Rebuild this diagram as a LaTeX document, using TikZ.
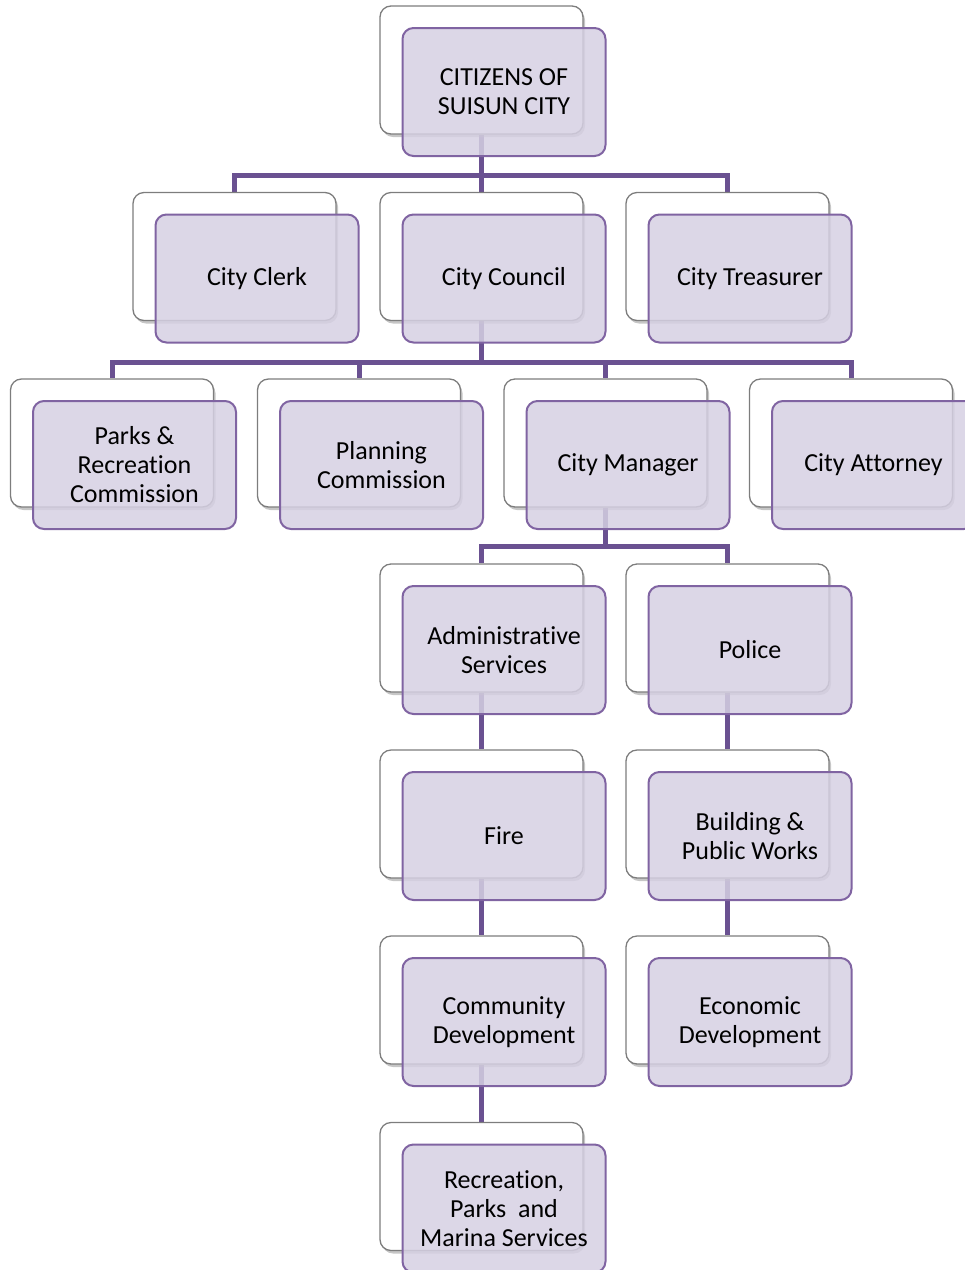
\documentclass[tikz,border=0pt]{standalone}
\usepackage{fontspec}
\setmainfont{Carlito}[Ligatures=NoCommon]
\usetikzlibrary{shadows,backgrounds}
\definecolor{boxline}{RGB}{128,100,162}
\definecolor{boxfill}{RGB}{214,208,227}
\definecolor{linkline}{RGB}{106,81,145}
\definecolor{backline}{RGB}{125,125,125}
\tikzset{
  backbox/.style={draw=backline, line width=1.3pt, fill=white, rounded corners=11pt,
    minimum width=203pt, minimum height=128pt, inner sep=0pt,
    drop shadow={shadow xshift=2pt, shadow yshift=-3pt, opacity=0.45}},
  frontbox/.style={draw=boxline, line width=2pt, fill=boxfill, fill opacity=0.85, text opacity=1,
    rounded corners=11pt, minimum width=203pt, minimum height=128pt, inner sep=0pt,
    align=center, font=\fontsize{26}{29}\selectfont},
  link/.style={draw=linkline, line width=5pt}
}
\newcommand{\orgunit}[4]{%
  \node[backbox] (#1back) at (#2,#3) {};
  \node[frontbox] (#1) at ([shift={(22.5,22)}]#1back) {#4};
}
\begin{document}
\begin{tikzpicture}[x=1pt,y=-1pt]
\useasboundingbox (0,0) rectangle (965,1270);
\clip (0,0) rectangle (965,1270);

% top
\orgunit{citizens}{481.5}{70}{CITIZENS OF\\SUISUN CITY}
% second row
\orgunit{clerk}{234.5}{256.5}{City Clerk}
\orgunit{council}{481.5}{256.5}{City Council}
\orgunit{treasurer}{727.5}{256.5}{City Treasurer}
% third row
\orgunit{parks}{112}{443}{Parks \&\\Recreation\\Commission}
\orgunit{planning}{359}{443}{Planning\\Commission}
\orgunit{manager}{605.5}{443}{City Manager}
\orgunit{attorney}{851}{443}{City Attorney}
% departments
\orgunit{admin}{481.5}{628}{Administrative\\Services}
\orgunit{police}{727.5}{628}{Police}
\orgunit{fire}{481.5}{814}{Fire}
\orgunit{buildpw}{727.5}{814}{Building \&\\Public Works}
\orgunit{commdev}{481.5}{1000}{Community\\Development}
\orgunit{econdev}{727.5}{1000}{Economic\\Development}
\orgunit{recparks}{481.5}{1186.5}{Recreation,\\Parks~~and\\Marina Services}

\begin{scope}[on background layer]
\draw[link] (citizensback.south) -- ++(0,41) -| (clerkback.north);
\draw[link] (citizensback.south) -- (councilback.north);
\draw[link] (citizensback.south) ++(0,41) -| (treasurerback.north);

\draw[link] (councilback.south) -- ++(0,41) -| (parksback.north);
\draw[link] (councilback.south) ++(0,41) -| (planningback.north);
\draw[link] (councilback.south) ++(0,41) -| (managerback.north);
\draw[link] (councilback.south) ++(0,41) -| (attorneyback.north);

\draw[link] (managerback.south) -- ++(0,39) -| (adminback.north);
\draw[link] (managerback.south) ++(0,39) -| (policeback.north);

\draw[link] (adminback.south) -- (fireback.north);
\draw[link] (fireback.south) -- (commdevback.north);
\draw[link] (commdevback.south) -- (recparksback.north);
\draw[link] (policeback.south) -- (buildpwback.north);
\draw[link] (buildpwback.south) -- (econdevback.north);
\end{scope}
\end{tikzpicture}
\end{document}
